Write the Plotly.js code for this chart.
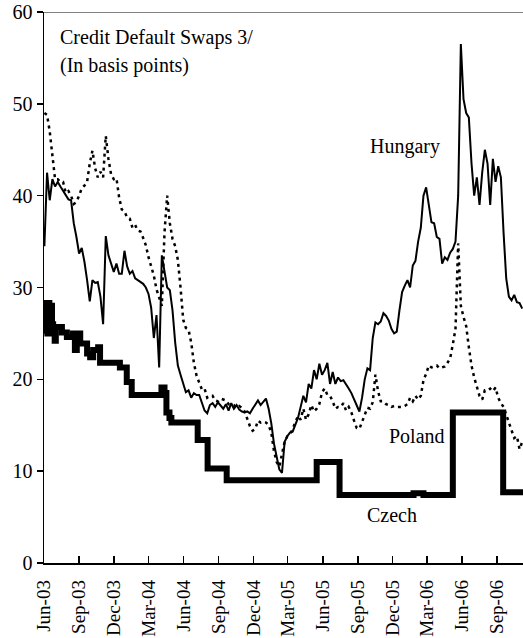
<!DOCTYPE html>
<html>
<head>
<meta charset="utf-8">
<script src="https://cdn.plot.ly/plotly-3.0.1.min.js"></script>
<style>html,body{margin:0;padding:0;background:#fff;}#chart{width:523px;height:638px;}</style>
</head>
<body>
<div id="chart"></div>
<script>
// Weekly observation dates (Mondays) for Hungary and Poland
var weeks = [
'2003-06-02','2003-06-09','2003-06-16','2003-06-23','2003-06-30','2003-07-07','2003-07-14','2003-07-21','2003-07-28',
'2003-08-04','2003-08-11','2003-08-18','2003-08-25','2003-09-01','2003-09-08','2003-09-15','2003-09-22','2003-09-29',
'2003-10-06','2003-10-13','2003-10-20','2003-10-27','2003-11-03','2003-11-10','2003-11-17','2003-11-24',
'2003-12-01','2003-12-08','2003-12-15','2003-12-22','2003-12-29',
'2004-01-05','2004-01-12','2004-01-19','2004-01-26','2004-02-02','2004-02-09','2004-02-16','2004-02-23',
'2004-03-01','2004-03-08','2004-03-15','2004-03-22','2004-03-29','2004-04-05','2004-04-12','2004-04-19','2004-04-26',
'2004-05-03','2004-05-10','2004-05-17','2004-05-24','2004-05-31','2004-06-07','2004-06-14','2004-06-21','2004-06-28',
'2004-07-05','2004-07-12','2004-07-19','2004-07-26','2004-08-02','2004-08-09','2004-08-16','2004-08-23','2004-08-30',
'2004-09-06','2004-09-13','2004-09-20','2004-09-27','2004-10-04','2004-10-11','2004-10-18','2004-10-25',
'2004-11-01','2004-11-08','2004-11-15','2004-11-22','2004-11-29','2004-12-06','2004-12-13','2004-12-20','2004-12-27',
'2005-01-03','2005-01-10','2005-01-17','2005-01-24','2005-01-31','2005-02-07','2005-02-14','2005-02-21','2005-02-28',
'2005-03-07','2005-03-14','2005-03-21','2005-03-28','2005-04-04','2005-04-11','2005-04-18','2005-04-25',
'2005-05-02','2005-05-09','2005-05-16','2005-05-23','2005-05-30','2005-06-06','2005-06-13','2005-06-20','2005-06-27',
'2005-07-04','2005-07-11','2005-07-18','2005-07-25','2005-08-01','2005-08-08','2005-08-15','2005-08-22','2005-08-29',
'2005-09-05','2005-09-12','2005-09-19','2005-09-26','2005-10-03','2005-10-10','2005-10-17','2005-10-24','2005-10-31',
'2005-11-07','2005-11-14','2005-11-21','2005-11-28','2005-12-05','2005-12-12','2005-12-19','2005-12-26',
'2006-01-02','2006-01-09','2006-01-16','2006-01-23','2006-01-30','2006-02-06','2006-02-13','2006-02-20','2006-02-27',
'2006-03-06','2006-03-13','2006-03-20','2006-03-27','2006-04-03','2006-04-10','2006-04-17','2006-04-24',
'2006-05-01','2006-05-08','2006-05-15','2006-05-22','2006-05-29','2006-06-05','2006-06-12','2006-06-19','2006-06-26',
'2006-07-03','2006-07-10','2006-07-17','2006-07-24','2006-07-31','2006-08-07','2006-08-14','2006-08-21','2006-08-28',
'2006-09-04','2006-09-11','2006-09-18','2006-09-25','2006-10-02','2006-10-09','2006-10-16','2006-10-23','2006-10-30',
'2006-11-06'
];

var hungary = [
34.5,42.5,39.5,41.8,41,41.5,41,40.5,40,39.6,
39.5,37,35.5,33.7,34.3,32.8,30.8,28.5,30.8,30.5,
30.6,29,26,35.6,33.5,32.5,31.7,32.6,31.5,31.5,
34,32.3,31.5,31.8,31,30.8,30.6,30.4,30,29.3,
27.8,24.5,27,21.3,33.5,31.5,30,29.7,27.5,24,
21.5,20.5,19.6,18.6,18.8,18,18.5,18.3,18.3,17.4,
16.6,16.3,17.2,17.4,17,17.5,17.2,16.8,17.3,16.6,
17.4,16.8,17.2,16.7,16.5,16.4,16.5,16.3,16.8,17.2,
17.7,17.2,17.5,17.9,16.8,15.2,13,11.5,10.2,9.8,
13.2,13.8,14.2,14.3,15,15.8,17,18.2,17.5,19.5,
19,21,20,21.7,20.5,21,21.8,19.5,20.8,19.5,
20.2,19.8,19.9,19.5,19,18.5,17.8,17,16.5,18,
20,21.2,21,24.5,26.2,26,26.3,27.2,26.9,26.4,
25.5,25,25.2,27.5,29.5,30.2,30.8,30,32.4,32.9,
35,36.5,40,40.9,39,37.1,37,35.5,35.3,32.6,
33.3,33,33.8,34.2,35,40,56.5,50.5,49,48.5,
43.5,40,42,39,42.5,45,43.5,39,44,41.5,
43.2,42,36,31,29,28.6,29.2,28.4,28.3,27.7
];

var poland = [
49,48.8,47,44,41.8,41.8,41.5,41.5,40.3,40.5,
40,39.1,39.3,40,40.8,41.1,41.5,43.5,44.9,43,
42,42.6,42,46.5,44,42.3,41.8,41.9,39.8,38.5,
38.3,37.6,37.5,36.5,36.8,36.2,36.1,35.4,34.6,33.3,
32.3,31.3,29.8,29,28,36,40,37,35.3,34.5,
33,30,26.5,25.6,25.4,24,21.8,20.4,19.6,18.9,
19,18,18.2,18.2,17.7,17.6,17.9,17.8,17.7,17.3,
17.3,17.2,16.9,17.1,16.9,16.5,15.6,14.9,14.4,14.6,
15.5,15.3,15.4,15.3,15,14.2,12.2,11,10.5,11.8,
13.2,13.8,14,14.6,15.3,16,15.6,16.8,15.6,16.2,
17.2,16.5,16.8,17.3,18.6,19,18.3,18.2,17.6,16.8,
17,17,17.4,16.6,17,16.4,15.5,14.7,14.6,15.3,
16.2,16.9,16.8,17.5,20.5,18.7,17.6,17.6,17.3,17.2,
17,17.1,17,17,17,17.1,17.3,18,17.6,18.2,
17.8,18.2,19.9,20.6,21.5,21.3,21.4,21.5,21.2,21.3,
21.4,21.8,22.3,23.8,25.5,34.8,28,26.8,25.8,23.5,
21.5,20.2,19.3,18.2,17.8,18.8,18.8,19,18.7,19.1,
18,17.4,17,16.1,15.3,14.3,13.6,13.8,12.4,13.2
];

// Czech: step series (value changes)
var czechDates = [
'2003-06-02','2003-06-04','2003-06-08','2003-06-11','2003-06-15','2003-06-18','2003-06-22','2003-06-25',
'2003-06-29','2003-07-02','2003-07-18','2003-07-31','2003-08-16','2003-08-21','2003-08-26','2003-09-04',
'2003-09-22','2003-09-30','2003-10-08','2003-10-21','2003-10-26','2003-12-17','2004-01-04','2004-01-17',
'2004-04-04','2004-04-12','2004-04-17','2004-04-25','2004-04-30','2004-07-08','2004-08-03','2004-09-22',
'2005-05-16','2005-07-15','2006-01-25','2006-02-20','2006-05-08','2006-09-17','2006-11-08'
];
var czech = [
25,28.3,25.3,28.3,25,28,26,25.7,
24.2,25.7,25.1,24.6,25,23.2,25,23.9,
22.8,22.4,23.2,23.5,21.8,21.3,19.7,18.3,
19.1,18.5,16.4,15.8,15.3,13.4,10.3,9.0,
11.0,7.4,7.6,7.4,16.4,7.7,7.7
];

var titleLines = ['Credit Default Swaps 3/', '(In basis points)'];
var seriesNames = ['Hungary', 'Poland', 'Czech'];

var FONT = "'Liberation Serif', 'Times New Roman', 'DejaVu Serif', serif";

var traces = [
  {x: weeks, y: poland, type: 'scatter', mode: 'lines', name: seriesNames[1],
   line: {color: '#000', width: 2.5, dash: '3px,4px'}},
  {x: czechDates, y: czech, type: 'scatter', mode: 'lines', name: seriesNames[2],
   line: {color: '#000', width: 6, shape: 'hv'}},
  {x: weeks, y: hungary, type: 'scatter', mode: 'lines', name: seriesNames[0],
   line: {color: '#000', width: 2}}
];

var layout = {
  width: 523, height: 638,
  margin: {l: 44, r: 0, t: 12, b: 75},
  paper_bgcolor: '#fff', plot_bgcolor: '#fff',
  showlegend: false,
  font: {family: FONT, size: 20, color: '#000'},
  xaxis: {
    type: 'date', range: ['2003-06-01', '2006-11-08'],
    tick0: '2003-06-01', dtick: 'M3', tickformat: '%b-%y', tickangle: -90,
    ticks: 'inside', ticklen: 7, tickwidth: 1.5, tickcolor: '#000',
    showline: true, linecolor: '#000', linewidth: 1.5,
    showgrid: false, zeroline: false,
    tickfont: {family: FONT, size: 19, color: '#000'},
    ticklabelstandoff: 8
  },
  yaxis: {
    range: [0, 60], tick0: 0, dtick: 10,
    ticks: 'outside', ticklen: 6, tickwidth: 1.5, tickcolor: '#000',
    showline: true, linecolor: '#000', linewidth: 1.5,
    showgrid: false, zeroline: false,
    tickfont: {family: FONT, size: 20, color: '#000'}
  },
  shapes: [
    {type: 'line', xref: 'paper', yref: 'y', x0: 0, x1: 1, y0: 60, y1: 60,
     line: {color: '#808080', width: 2}}
  ],
  annotations: [
    {xref: 'paper', yref: 'paper', x: 0.029, y: 0.953, xanchor: 'left', yanchor: 'middle',
     text: titleLines[0], showarrow: false, font: {family: FONT, size: 20, color: '#000'}},
    {xref: 'paper', yref: 'paper', x: 0.029, y: 0.902, xanchor: 'left', yanchor: 'middle',
     text: titleLines[1], showarrow: false, font: {family: FONT, size: 20, color: '#000'}},
    {xref: 'paper', yref: 'paper', x: 0.754, y: 0.755, xanchor: 'center', yanchor: 'middle',
     text: seriesNames[0], showarrow: false, font: {family: FONT, size: 20, color: '#000'}},
    {xref: 'paper', yref: 'paper', x: 0.779, y: 0.230, xanchor: 'center', yanchor: 'middle',
     text: seriesNames[1], showarrow: false, font: {family: FONT, size: 20, color: '#000'}},
    {xref: 'paper', yref: 'paper', x: 0.727, y: 0.087, xanchor: 'center', yanchor: 'middle',
     text: seriesNames[2], showarrow: false, font: {family: FONT, size: 20, color: '#000'}}
  ]
};

Plotly.newPlot('chart', traces, layout, {displayModeBar: false, staticPlot: true});
</script>
</body>
</html>
